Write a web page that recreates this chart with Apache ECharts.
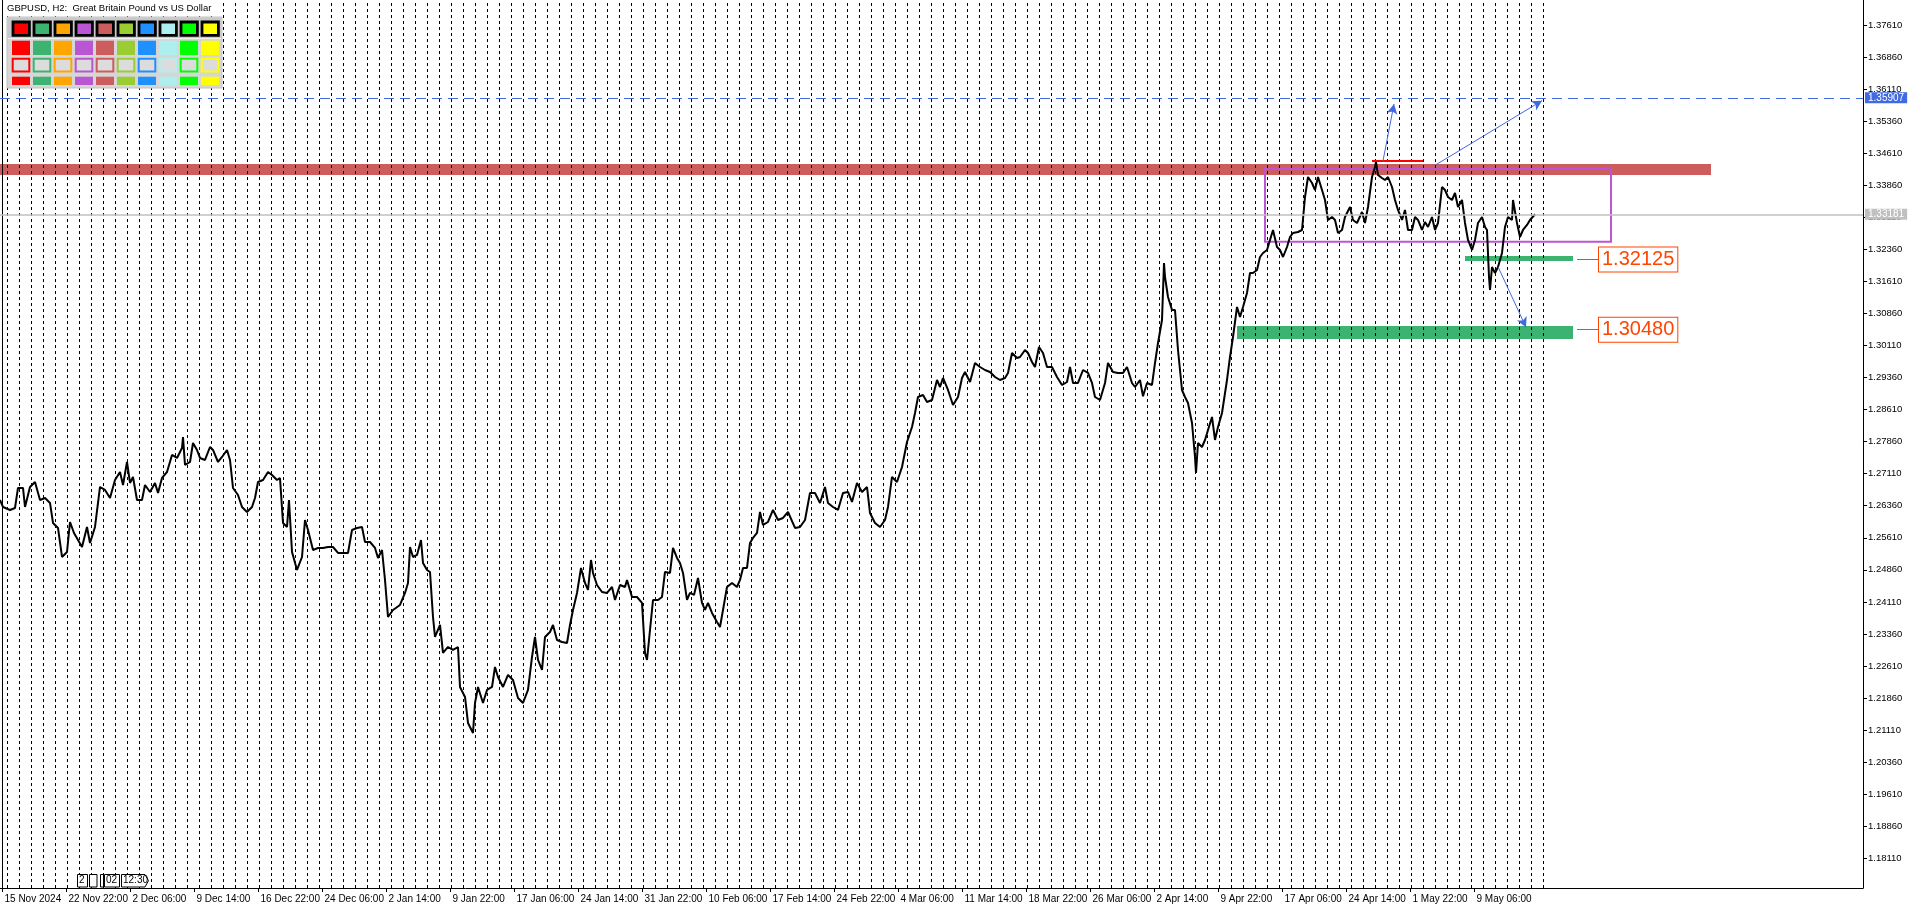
<!DOCTYPE html>
<html>
<head>
<meta charset="utf-8">
<title>GBPUSD H2</title>
<script src="https://cdn.jsdelivr.net/npm/echarts@6/dist/echarts.min.js"></script>
<style>
html,body{margin:0;padding:0;background:#fff;}
#chart{width:1916px;height:911px;}
</style>
</head>
<body>
<div id="chart"></div>
<script>
// ---------- data ----------
const chartTitle = 'GBPUSD, H2:  Great Britain Pound vs US Dollar';
const xTickLabels = ['15 Nov 2024','22 Nov 22:00','2 Dec 06:00','9 Dec 14:00','16 Dec 22:00','24 Dec 06:00','2 Jan 14:00','9 Jan 22:00','17 Jan 06:00','24 Jan 14:00','31 Jan 22:00','10 Feb 06:00','17 Feb 14:00','24 Feb 22:00','4 Mar 06:00','11 Mar 14:00','18 Mar 22:00','26 Mar 06:00','2 Apr 14:00','9 Apr 22:00','17 Apr 06:00','24 Apr 14:00','1 May 22:00','9 May 06:00'];
const barsPerLabel = 64;
const firstLabelBar = 2.5;
const yTickValues = [1.18110,1.18860,1.19610,1.20360,1.21110,1.21860,1.22610,1.23360,1.24110,1.24860,1.25610,1.26360,1.27110,1.27860,1.28610,1.29360,1.30110,1.30860,1.31610,1.32360,1.33110,1.33860,1.34610,1.35360,1.36110,1.36860,1.37610];
const yMin = 1.17415, yMax = 1.38195;
const totalBars = 1863;

// close price (bar index, price)
const priceBars = [0,3,10,15,18,23,25,30,35,40,45,50,53,58,62,67,70,74,78,82,87,90,95,100,105,110,115,120,123,127,130,133,137,142,145,150,155,158,162,167,172,177,182,183,185,190,193,197,200,205,210,213,218,222,227,230,233,238,242,247,252,255,258,263,268,272,277,280,283,287,289,292,297,302,305,308,313,318,323,328,333,338,343,348,352,357,362,365,370,375,378,382,385,388,393,400,405,408,410,413,417,421,423,427,430,433,435,440,443,448,453,458,460,465,468,470,473,475,478,483,487,492,495,498,503,508,513,518,523,528,532,535,538,542,545,550,553,557,562,567,570,573,577,581,585,588,591,593,597,602,607,612,615,620,625,627,632,637,642,645,647,650,653,658,662,665,670,673,677,680,683,687,690,694,698,702,705,708,712,717,720,723,727,732,737,740,743,747,750,753,757,760,763,768,773,778,783,788,790,795,800,805,810,815,820,825,828,833,838,843,848,852,857,862,867,870,875,880,885,888,892,897,902,907,912,915,918,923,927,932,937,940,943,948,953,958,962,965,970,975,980,985,990,995,1000,1005,1008,1012,1017,1020,1025,1028,1032,1035,1039,1043,1047,1052,1057,1062,1067,1070,1073,1078,1083,1088,1092,1095,1100,1105,1108,1113,1118,1123,1127,1132,1135,1140,1143,1147,1152,1155,1158,1162,1164,1165,1168,1172,1175,1178,1182,1185,1188,1192,1195,1196,1198,1202,1205,1208,1212,1215,1218,1222,1227,1230,1233,1237,1240,1243,1247,1250,1253,1257,1260,1263,1267,1270,1273,1277,1280,1283,1287,1290,1293,1298,1302,1305,1308,1312,1315,1318,1322,1325,1328,1332,1335,1338,1342,1345,1350,1353,1357,1362,1365,1368,1372,1375,1376,1378,1382,1385,1388,1392,1395,1398,1402,1405,1408,1412,1415,1418,1422,1425,1428,1432,1435,1438,1442,1445,1448,1452,1455,1458,1462,1465,1468,1472,1475,1478,1482,1485,1487,1489,1490,1492,1495,1498,1502,1505,1508,1512,1513,1517,1520,1523,1527,1530,1535];
const priceValues = [1.26495,1.26331,1.26261,1.26308,1.26776,1.26776,1.26331,1.26799,1.26916,1.26495,1.26542,1.26425,1.25957,1.25840,1.25161,1.25278,1.25980,1.25723,1.25559,1.25395,1.25863,1.25489,1.25863,1.26799,1.26729,1.26542,1.26963,1.27150,1.26846,1.27384,1.26893,1.27033,1.26495,1.26495,1.26846,1.26682,1.26893,1.26659,1.27010,1.27150,1.27548,1.27478,1.27712,1.27969,1.27314,1.27384,1.27829,1.27665,1.27478,1.27431,1.27735,1.27665,1.27384,1.27501,1.27665,1.27431,1.26776,1.26612,1.26331,1.26214,1.26331,1.26542,1.26916,1.26963,1.27150,1.27080,1.26963,1.27010,1.25957,1.25863,1.26495,1.25278,1.24857,1.25161,1.26027,1.25793,1.25325,1.25372,1.25372,1.25395,1.25395,1.25255,1.25255,1.25255,1.25793,1.25840,1.25863,1.25512,1.25512,1.25372,1.25138,1.25325,1.24623,1.23757,1.23921,1.24038,1.24319,1.24553,1.25395,1.25161,1.25208,1.25559,1.25021,1.24857,1.24810,1.23757,1.23289,1.23570,1.22915,1.23055,1.22985,1.23055,1.22119,1.21885,1.21277,1.21183,1.21043,1.21745,1.22119,1.21745,1.22049,1.22119,1.22587,1.22353,1.22119,1.22400,1.22283,1.21862,1.21745,1.22049,1.22821,1.23289,1.22751,1.22517,1.23289,1.23406,1.23570,1.23219,1.23172,1.23149,1.23570,1.23921,1.24319,1.24904,1.24553,1.24389,1.25091,1.24787,1.24506,1.24342,1.24319,1.24459,1.24155,1.24506,1.24459,1.24623,1.24225,1.24225,1.24085,1.22915,1.22751,1.23453,1.24155,1.24155,1.24225,1.24810,1.24787,1.25372,1.25138,1.25021,1.24787,1.24155,1.24319,1.24272,1.24670,1.24085,1.23921,1.24085,1.23851,1.23640,1.23523,1.23921,1.24459,1.24553,1.24459,1.24623,1.24904,1.24904,1.25489,1.25606,1.25723,1.26214,1.25910,1.25980,1.26261,1.26027,1.26074,1.26214,1.26191,1.25840,1.25863,1.26027,1.26659,1.26659,1.26425,1.26799,1.26425,1.26331,1.26261,1.26659,1.26682,1.26448,1.26893,1.26682,1.26799,1.26191,1.25957,1.25863,1.26027,1.26331,1.27033,1.26916,1.27267,1.27852,1.28203,1.28531,1.28905,1.28952,1.28788,1.28835,1.29303,1.29139,1.29350,1.29069,1.28718,1.28905,1.29350,1.29490,1.29256,1.29701,1.29607,1.29537,1.29490,1.29373,1.29303,1.29350,1.29467,1.29935,1.29818,1.29841,1.30005,1.29935,1.29724,1.29607,1.30075,1.29935,1.29607,1.29607,1.29373,1.29186,1.29256,1.29607,1.29233,1.29233,1.29537,1.29467,1.29233,1.28905,1.28835,1.29233,1.29701,1.29490,1.29467,1.29467,1.29607,1.29233,1.29139,1.29303,1.28922,1.29233,1.29186,1.29701,1.30169,1.30707,1.32041,1.31713,1.31245,1.30941,1.30941,1.30005,1.29069,1.28905,1.28765,1.28297,1.27501,1.27127,1.27829,1.27735,1.27899,1.28133,1.28437,1.27899,1.28203,1.28531,1.29303,1.29841,1.30309,1.31011,1.30777,1.31011,1.31339,1.31807,1.31807,1.31877,1.32181,1.32275,1.32345,1.32579,1.32813,1.32415,1.32345,1.32181,1.32415,1.32649,1.32743,1.32766,1.32813,1.33585,1.34053,1.33913,1.33749,1.34053,1.33749,1.33515,1.33047,1.33117,1.33047,1.32743,1.32813,1.33117,1.33351,1.33047,1.32977,1.33234,1.32977,1.33351,1.34053,1.34287,1.34404,1.34100,1.34030,1.33983,1.34053,1.33819,1.33515,1.33281,1.33047,1.33281,1.32813,1.32813,1.33117,1.33047,1.32813,1.33000,1.32883,1.33117,1.32813,1.32977,1.33819,1.33749,1.33585,1.33515,1.33679,1.33351,1.33515,1.32977,1.32579,1.32345,1.32579,1.32977,1.33117,1.32883,1.32813,1.31713,1.31409,1.31947,1.31807,1.31947,1.32275,1.32883,1.33117,1.33047,1.33515,1.32977,1.32649,1.32813,1.32930,1.33047,1.33181];

const currentPrice = 1.33181;
const targetPrice = 1.35907;
const supportLevels = [1.32125, 1.30480];
// zones: [startBar, endBar, upperPrice, lowerPrice]
const resistanceZone = [0, 1711, 1.34357, 1.34100];
const rangeBox = [1265, 1611, 1.34247, 1.32539];
const supportZone1 = [1465, 1573, 1.32204, 1.32087];
const supportZone2 = [1237, 1573, 1.30566, 1.30262];
const highMark = [1372, 1423, 1.34427];
// arrows: [fromBar, fromPrice, toBar, toPrice]
const arrows = [[1383, 1.34432, 1394, 1.35761],[1436, 1.34341, 1542, 1.35839],[1498, 1.31954, 1526, 1.30536]];
const labelLeaders = [[1577, 1598],[1577, 1598]];
const paletteColors = ['#FF0000','#3CB371','#FFA500','#BA55D3','#CD5C5C','#9ACD32','#1E90FF','#AFEEEE','#00FF00','#FFFF00'];

// ---------- build ----------
const FONT = 'Liberation Sans';
const xTickBars = xTickLabels.map((_, i) => firstLabelBar + barsPerLabel * i);
const dayLines = [];
for (let k = 0; k <= 128; k++) dayLines.push(7.5 + 12 * k);

const priceData = priceBars.map((b, i) => [b, priceValues[i]]);

const gridLineData = dayLines.map(v => ({xAxis: v, lineStyle: {type: [3, 3], color: '#000', width: 1}}));
gridLineData.push({xAxis: firstLabelBar, lineStyle: {type: 'solid', color: '#000', width: 1}});
gridLineData.push({
  yAxis: currentPrice,
  lineStyle: {type: 'solid', color: '#C0C0C0', width: 1.5},
  label: {show: true, position: 'end', distance: 2, formatter: currentPrice.toFixed(5),
    backgroundColor: '#C0C0C0', color: '#fff', fontSize: 10, fontFamily: FONT, padding: [1, 3, 0, 3]}
});

function zone(z, style) {
  return [{xAxis: z[0], yAxis: z[2], itemStyle: style}, {xAxis: z[1], yAxis: z[3]}];
}

const overlayLines = [
  {
    yAxis: targetPrice,
    lineStyle: {type: [10, 6], color: '#4169E1', width: 1},
    label: {show: true, position: 'end', distance: 2, formatter: targetPrice.toFixed(5),
      backgroundColor: '#4169E1', color: '#fff', fontSize: 10, fontFamily: FONT, padding: [1, 3, 0, 3]}
  },
  [{coord: [highMark[0], highMark[2]], lineStyle: {color: '#FF0000', width: 2, type: 'solid'}},
   {coord: [highMark[1], highMark[2]]}]
];
supportLevels.forEach((lv, i) => {
  overlayLines.push([
    {coord: [labelLeaders[i][0], lv], lineStyle: {color: '#FF4500', width: 1, type: 'solid'},
     label: {show: true, position: 'end', distance: 1, formatter: lv.toFixed(5), color: '#FF4500',
       fontSize: 20, fontFamily: FONT, backgroundColor: '#fff', borderColor: '#FF4500', borderWidth: 1,
       padding: [3, 3, 1, 3]}},
    {coord: [labelLeaders[i][1], lv]}
  ]);
});

const arrowLines = arrows.map(a => [
  {coord: [a[0], a[1]], lineStyle: {color: '#4169E1', width: 1, type: 'solid'}},
  {coord: [a[2], a[3]]}
]);

// palette widget graphics
const graphics = [];
graphics.push({type: 'rect', z: 100, shape: {x: 7, y: 17, width: 215, height: 71}, style: {fill: '#D6D6D6', stroke: '#C2C2C2', lineWidth: 1}});
graphics.push({type: 'rect', z: 100, shape: {x: 8, y: 18, width: 213, height: 20}, style: {fill: '#C9C9C9'}});
graphics.push({type: 'line', z: 100, shape: {x1: 8, y1: 38.5, x2: 221, y2: 38.5}, style: {stroke: '#F0F0F0', lineWidth: 1}});
paletteColors.forEach((c, k) => {
  const x0 = 11.7 + 21 * k;
  graphics.push({type: 'rect', z: 101, shape: {x: x0 + 1.3, y: 22, width: 16.4, height: 13.4}, style: {fill: c, stroke: '#000', lineWidth: 2.8}});
  graphics.push({type: 'rect', z: 101, shape: {x: x0 + 0.3, y: 40.7, width: 18, height: 14.3}, style: {fill: c}});
  graphics.push({type: 'rect', z: 101, shape: {x: x0 + 1, y: 58.7, width: 16.6, height: 12.8}, style: {fill: '#DCDCDC', stroke: c, lineWidth: 2}});
  graphics.push({type: 'rect', z: 101, shape: {x: x0 + 0.3, y: 76.7, width: 18, height: 8.3}, style: {fill: c}});
});
// small time buttons (bottom-left)
function btn(x, w, txt) {
  graphics.push({type: 'rect', z: 101, shape: {x: x, y: 874.5, width: w, height: 12.5}, style: {fill: '#fff', stroke: '#000', lineWidth: 1}});
  graphics.push({type: 'text', z: 102, left: x + 1.5, top: 875.5, style: {text: txt, fill: '#000', fontSize: 10, fontFamily: FONT, width: w - 2, overflow: 'truncate', ellipsis: ''}});
}
btn(77.5, 10, '20');
btn(89.5, 7.5, '20');
btn(100.5, 3, '');
btn(104.5, 15, '02:');
graphics.push({type: 'polygon', z: 101, shape: {points: [[121.5, 874.5], [145, 874.5], [148.5, 880.7], [145, 887], [121.5, 887]]}, style: {fill: '#fff', stroke: '#000', lineWidth: 1}});
graphics.push({type: 'text', z: 102, left: 123, top: 875.5, style: {text: '12:30', fill: '#000', fontSize: 10, fontFamily: FONT}});

const option = {
  animation: false,
  backgroundColor: '#fff',
  textStyle: {fontFamily: FONT},
  title: {
    text: chartTitle, left: 3, top: 0, padding: [3, 4, 3, 4], backgroundColor: '#fff',
    textStyle: {fontSize: 9.5, fontWeight: 'normal', color: '#000', fontFamily: FONT}
  },
  grid: {left: 0, right: 53, top: 0, bottom: 23},
  xAxis: {
    type: 'value', min: 0, max: totalBars,
    axisLine: {show: true, onZero: false, lineStyle: {color: '#000', width: 1}},
    axisTick: {show: true, customValues: xTickBars, length: 4, lineStyle: {color: '#000'}},
    axisLabel: {show: true, customValues: xTickBars, align: 'left', margin: 6, padding: [0, 0, 0, 2],
      fontSize: 10, color: '#000', fontFamily: FONT,
      formatter: v => { const i = xTickBars.indexOf(v); return i >= 0 ? xTickLabels[i] : ''; }},
    splitLine: {show: false}
  },
  yAxis: {
    type: 'value', position: 'right', min: yMin, max: yMax,
    axisLine: {show: true, onZero: false, lineStyle: {color: '#000', width: 1}},
    axisTick: {show: true, customValues: yTickValues, length: 4, lineStyle: {color: '#000'}},
    axisLabel: {show: true, customValues: yTickValues, margin: 5, fontSize: 9.5, color: '#000', fontFamily: FONT,
      formatter: v => v.toFixed(5)},
    splitLine: {show: false}
  },
  series: [
    {
      name: 'background', type: 'line', data: [], z: 1, silent: true,
      markLine: {silent: true, precision: 5, symbol: ['none', 'none'], animation: false, label: {show: false}, emphasis: {disabled: true},
        data: gridLineData},
      markArea: {silent: true, animation: false, emphasis: {disabled: true},
        data: [
          zone(resistanceZone, {color: '#CD5C5C', opacity: 1}),
          zone(supportZone1, {color: '#3CB371', opacity: 1}),
          zone(supportZone2, {color: '#3CB371', opacity: 1}),
          zone(rangeBox, {color: 'rgba(0,0,0,0)', borderColor: '#BA55D3', borderWidth: 2, opacity: 1})
        ]}
    },
    {
      name: 'GBPUSD', type: 'line', data: priceData, z: 3, silent: true,
      symbol: 'none', showSymbol: false,
      lineStyle: {color: '#000', width: 2}
    },
    {
      name: 'overlay', type: 'line', data: [], z: 4, silent: true,
      markLine: {silent: true, precision: 5, symbol: ['none', 'none'], animation: false, label: {show: false}, emphasis: {disabled: true},
        data: overlayLines}
    },
    {
      name: 'arrows', type: 'line', data: [], z: 4, silent: true,
      markLine: {silent: true, precision: 5, symbol: ['none', 'arrow'], symbolSize: [8, 10], animation: false, label: {show: false}, emphasis: {disabled: true},
        data: arrowLines}
    }
  ],
  graphic: graphics
};

const chart = echarts.init(document.getElementById('chart'), null, {renderer: 'canvas'});
chart.setOption(option);
</script>
</body>
</html>
